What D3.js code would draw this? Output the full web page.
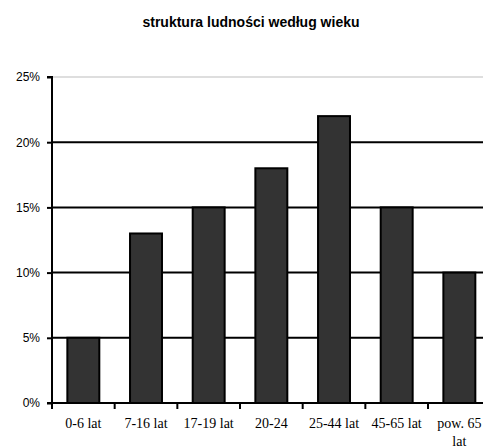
<!DOCTYPE html>
<html>
<head>
<meta charset="utf-8">
<script src="https://cdn.jsdelivr.net/npm/d3@7"></script>
<style>
  html, body { margin: 0; padding: 0; background: #fff; }
  svg { display: block; }
</style>
</head>
<body>
<script>
// Age-structure data
const categories = ["0-6 lat", "7-16 lat", "17-19 lat", "20-24", "25-44 lat", "45-65 lat", "pow. 65 lat"];
const shares = [5, 13, 15, 18, 22, 15, 10];
const yTicks = [0, 5, 10, 15, 20, 25];
const title = "struktura ludności według wieku";

const W = 483, H = 448;
const margin = { left: 52, top: 77, bottom: 403 };
const plotRight = 52 + 7 * 62.67;

const svg = d3.select("body").append("svg").attr("width", W).attr("height", H);

const x = d3.scaleBand().domain(categories).range([margin.left, plotRight]).paddingInner(0.49).paddingOuter(0.245);
const band = d3.scaleBand().domain(categories).range([margin.left, plotRight]);
const y = d3.scaleLinear().domain([0, 25]).range([margin.bottom, margin.top]);

// title
svg.append("text")
  .attr("x", 251).attr("y", 27)
  .attr("text-anchor", "middle")
  .style("font-family", "'Liberation Sans', Arial, sans-serif")
  .style("font-weight", "bold")
  .style("font-size", "14px")
  .text(title);

// horizontal gridlines
svg.append("g").selectAll("line")
  .data(yTicks.filter(d => d > 0))
  .join("line")
  .attr("x1", margin.left).attr("x2", W)
  .attr("y1", d => y(d)).attr("y2", d => y(d))
  .attr("stroke", d => d === 25 ? "#bdbdbd" : "#000")
  .attr("stroke-width", d => d === 25 ? 1 : 2);

// bars
svg.append("g").selectAll("rect")
  .data(shares)
  .join("rect")
  .attr("x", (d, i) => x(categories[i]))
  .attr("width", x.bandwidth())
  .attr("y", d => y(d))
  .attr("height", d => y(0) - y(d))
  .attr("fill", "#333333")
  .attr("stroke", "#000")
  .attr("stroke-width", 2);

// y axis
const yAxis = d3.axisLeft(y).tickValues(yTicks).tickFormat(d => d + "%").tickSize(5).tickPadding(7);
const gy = svg.append("g").attr("transform", `translate(${margin.left},0)`).call(yAxis);
gy.select(".domain").attr("stroke", "#000").attr("stroke-width", 2).attr("d", `M-5,${margin.top}H0V${margin.bottom}`);
gy.selectAll(".tick line").attr("stroke", "#000").attr("stroke-width", 2);
gy.selectAll(".tick text")
  .style("font-family", "'Liberation Sans', Arial, sans-serif")
  .style("font-size", "12px")
  .attr("fill", "#000");

// x axis baseline and category ticks
const gx = svg.append("g").attr("transform", `translate(0,${margin.bottom})`);
gx.append("line").attr("x1", margin.left - 5).attr("x2", W).attr("stroke", "#000").attr("stroke-width", 2);
gx.selectAll(".cat-tick")
  .data(categories)
  .join("line")
  .attr("class", "cat-tick")
  .attr("x1", d => band(d)).attr("x2", d => band(d))
  .attr("y1", 0).attr("y2", 6)
  .attr("stroke", "#000").attr("stroke-width", 2);

// category labels (wrapped when they would crowd the band)
const labels = gx.selectAll(".cat-label")
  .data(categories)
  .join("text")
  .attr("class", "cat-label")
  .attr("x", d => band(d) + band.bandwidth() / 2)
  .attr("y", 25)
  .attr("text-anchor", "middle")
  .style("font-family", "'Liberation Serif', 'Times New Roman', serif")
  .style("font-size", "14px")
  .attr("fill", "#000");

labels.each(function(d) {
  const t = d3.select(this);
  const cx = band(d) + band.bandwidth() / 2;
  t.text(d);
  if (this.getComputedTextLength() > band.bandwidth() - 6) {
    const words = d.split(" ");
    const last = words.pop();
    t.text(null);
    t.append("tspan").attr("x", cx).text(words.join(" "));
    t.append("tspan").attr("x", cx).attr("dy", 18).text(last);
  }
});
</script>
</body>
</html>
